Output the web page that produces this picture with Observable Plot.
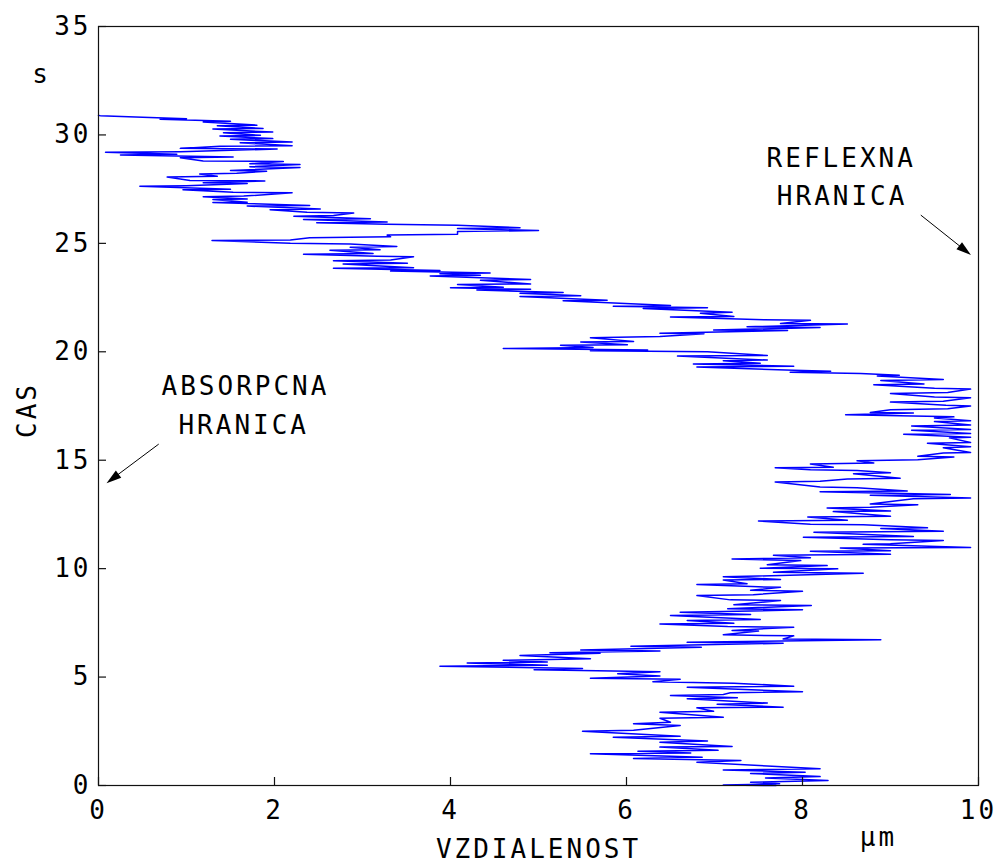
<!DOCTYPE html>
<html>
<head>
<meta charset="utf-8">
<script src="https://cdn.jsdelivr.net/npm/d3@7"></script>
<script src="https://cdn.jsdelivr.net/npm/@observablehq/plot@0.6"></script>
<style>
  html, body { margin: 0; padding: 0; background: #fff; }
</style>
</head>
<body>
<div id="chart"></div>
<script>
// Random-walk trajectory: [distance (µm), time (s)]
const walk1 = [
  [7.7,0.0],[7.1,0.02],[7.74,0.08],[7.41,0.15],[8.29,0.23],[7.58,0.35],[8.2,0.41],[7.41,0.55],
  [8.03,0.61],[7.1,0.72],[8.2,0.77],[7.6,0.9],[6.8,1.07],[7.3,1.15],[6.08,1.25],[6.86,1.3],
  [5.59,1.46],[6.73,1.5],[6.13,1.58],[7.04,1.62],[6.38,1.77],[7.2,1.8],[6.38,2.0],[6.92,2.05],
  [5.85,2.23],[6.61,2.27],[5.5,2.5],[6.08,2.55],[6.61,2.77],[6.08,2.85],[6.5,2.92],[6.38,3.1],
  [7.1,3.15],[6.38,3.38],[6.99,3.42],[6.8,3.58],[7.78,3.61],[7.03,3.75],[7.6,3.8],[6.69,4.0],
  [7.26,4.05],[6.5,4.15],[7.1,4.2],[7.18,4.28],[8.0,4.32],[6.69,4.53],[7.9,4.58],[7.22,4.72],
  [6.3,4.78],[6.61,4.9],[5.59,4.95],[6.38,5.05],[5.9,5.15],[6.38,5.25],[4.95,5.34],[5.5,5.4],
  [3.88,5.5],[5.1,5.55],[4.19,5.65],[5.1,5.7],[4.6,5.77],[5.59,5.85],[4.79,6.0],[5.7,6.1],
  [5.13,6.12],[6.38,6.2],[5.48,6.25],[6.85,6.38],[6.05,6.42],[7.78,6.56],[6.69,6.6],[8.89,6.72],
  [7.78,6.76],[7.9,6.9],[7.1,6.95],[7.5,7.12],[7.2,7.15],[7.9,7.3],[7.15,7.33],[6.38,7.45],
  [7.22,7.48],[6.69,7.61],[7.52,7.65],[6.5,7.84],[7.41,7.88],[6.61,7.99],[7.26,8.03],[8.0,8.1],
  [7.15,8.15],[8.1,8.3],[7.22,8.33],[7.75,8.53],[7.18,8.56],[6.8,8.76],[7.44,8.8],[8.0,8.96],
  [7.41,9.0],[7.75,9.14],[7.5,9.16],[6.8,9.27],[7.37,9.3],[7.1,9.48],[7.75,9.5],[7.1,9.63],
  [7.5,9.66],[8.69,9.79],[7.67,9.83],[8.4,9.99],[7.52,10.02],[8.28,10.14],[7.6,10.18],[7.98,10.37],
  [7.2,10.45]
];
const walk2 = [
  [8.09,10.5],[7.67,10.62],[9.0,10.66],[8.09,10.8],[9.0,10.83],[8.43,10.95],[9.91,10.97],[8.69,11.12],
  [9.0,11.15],[9.6,11.3],[9.0,11.33],[8.01,11.45],[9.26,11.48],[8.13,11.68],[9.6,11.72],[8.89,11.85],
  [9.42,11.88],[8.69,12.02],[8.09,12.05],[7.5,12.2],[8.51,12.23],[8.06,12.38],[9.0,12.42],[8.35,12.63],
  [9.0,12.66],[8.28,12.8],[8.77,12.83],[9.31,12.95],[8.77,12.98],[9.26,13.22],[9.91,13.26],[8.77,13.38],
  [9.68,13.42],[8.2,13.55],[9.19,13.58],[8.62,13.73],[8.2,13.76],[7.69,14.0],[8.2,14.03],[8.51,14.13],
  [9.11,14.17],[8.58,14.38],[9.0,14.42],[8.62,14.53],[8.09,14.56],[7.69,14.65],[8.35,14.68],[8.09,14.83],
  [8.81,14.87],[8.62,14.98],[9.31,15.02],[9.72,15.15],[9.31,15.18],[9.6,15.33],[9.91,15.36],[9.6,15.58],
  [9.91,15.62],[9.42,15.78],[9.91,15.82],[9.67,16.03],[9.91,16.06],[9.15,16.2],[9.91,16.23],[9.24,16.38],
  [9.91,16.42],[9.24,16.58],[9.91,16.62],[9.5,16.78],[9.91,16.82],[9.5,16.95],[9.72,17.0],[8.49,17.1],
  [9.26,17.18],[8.77,17.2],[9.0,17.33],[9.65,17.37],[9.91,17.5],[9.63,17.53],[9.0,17.68],[9.6,17.72],
  [9.91,17.88],[9.5,17.92],[9.0,18.08],[9.65,18.12],[9.91,18.28],[9.5,18.32],[8.81,18.48],[9.38,18.52],
  [8.89,18.68],[9.6,18.72],[8.85,18.88],[9.1,18.92],[8.66,19.0]
];
const walk3 = [
  [7.86,19.06],[8.32,19.1],[7.9,19.15],[6.8,19.3],[7.9,19.33],[6.76,19.44],[7.52,19.47],[7.1,19.59],
  [7.6,19.62],[6.58,19.8],[7.6,19.83],[6.92,20.0],[5.59,20.05],[6.24,20.08],[4.6,20.15],[5.62,20.2],
  [5.25,20.3],[6.01,20.33],[5.48,20.45],[6.08,20.48],[5.59,20.65],[6.38,20.7],[6.88,20.83],[6.38,20.86],
  [7.83,20.98],[6.99,21.0],[8.2,21.12],[7.37,21.15],[8.51,21.28],[7.75,21.3],[8.09,21.45],[7.56,21.48],
  [6.5,21.6],[7.22,21.63],[6.84,21.78],[7.2,21.82],[6.19,22.0],[6.92,22.03],[5.85,22.1],[6.5,22.13],
  [5.28,22.35],[5.78,22.38],[4.79,22.55],[5.48,22.58],[4.79,22.7],[5.28,22.73],[4.3,22.85],[4.91,22.88],
  [4.0,22.95],[4.6,22.98],[4.08,23.1],[4.91,23.13],[4.34,23.3],[4.91,23.33],[3.77,23.5],[4.34,23.53]
];
const walk4 = [
  [3.88,23.6],[4.45,23.63],[3.32,23.72],[3.88,23.75],[2.67,23.85],[3.58,23.88],[2.78,24.05],[3.51,24.08],
  [2.67,24.2],[3.32,24.23],[3.58,24.38],[3.17,24.4],[2.33,24.5],[3.12,24.53],[2.63,24.68],[3.2,24.7],
  [2.86,24.82],[3.39,24.85],[2.86,24.97],[2.18,25.0],[1.29,25.13],[2.18,25.15],[2.4,25.26],[3.32,25.3],
  [3.28,25.38],[4.08,25.42],[4.08,25.55],[5.0,25.59],[4.08,25.68],[4.79,25.72],[4.08,25.83],[3.28,25.88],
  [2.48,25.95],[3.28,25.98],[2.33,26.1],[3.09,26.13],[2.22,26.25],[2.67,26.28],[2.9,26.4],[2.37,26.43],
  [1.95,26.55],[2.52,26.58],[1.69,26.72],[2.4,26.75],[1.3,26.88],[1.69,26.9],[1.3,27.02],[1.69,27.05],
  [1.19,27.15],[1.65,27.18],[2.2,27.33],[1.53,27.36],[0.96,27.47],[1.5,27.5],[0.47,27.63],[1.0,27.66],
  [1.69,27.76],[1.19,27.79],[1.89,27.88],[1.04,27.9],[0.78,28.06],[1.35,28.09],[1.15,28.2],[1.57,28.23],
  [1.91,28.33],[1.5,28.36],[2.29,28.5],[1.72,28.53],[2.29,28.64],[1.72,28.67],[2.1,28.78],[1.19,28.8],
  [0.93,28.95],[1.53,28.98],[0.25,29.08],[0.89,29.11],[0.08,29.2],[0.93,29.23],[2.03,29.35],[0.93,29.38],
  [1.38,29.48],[2.2,29.5],[1.61,29.64],[2.2,29.67],[1.5,29.8],[1.98,29.83],[1.38,29.95],[1.84,29.98],
  [1.42,30.1],[1.98,30.13],[1.3,30.27],[1.87,30.3],[1.35,30.42],[1.8,30.45],[1.19,30.6],[1.5,30.63],
  [0.7,30.72],[1.0,30.75],[0.5,30.82],[0.02,30.89],[0.0,30.9]
];

const xTicks = [0, 2, 4, 6, 8, 10];
const yTicks = [0, 5, 10, 15, 20, 25, 30, 35];

const noteTexts = ["ABSORPCNA", "HRANICA", "REFLEXNA", "HRANICA"];
const noteX = [1.67, 1.65, 8.44, 8.45];
const noteY = [18.4, 16.6, 28.9, 27.15];

const arrowFromX = [0.69, 9.35];
const arrowFromY = [15.72, 26.28];
const arrowToX = [0.097, 9.92];
const arrowToY = [13.92, 24.44];

const path = [...walk1, ...walk2, ...walk3, ...walk4].map(([x, t]) => ({x, t}));
const notes = noteTexts.map((text, i) => ({text, x: noteX[i], y: noteY[i]}));
const arrows = arrowFromX.map((_, i) => ({x1: arrowFromX[i], y1: arrowFromY[i], x2: arrowToX[i], y2: arrowToY[i]}));

const W = 998, H = 865;
const mL = 98, mR = 20, mT = 26, mB = 80;
const frameW = W - mL - mR, frameH = H - mT - mB;
const tickLen = 8;

// custom arrows with filled heads, positioned through the plot's scales
function arrowMark(index, scales) {
  const g = d3.create("svg:g");
  for (const a of arrows) {
    const X1 = scales.x(a.x1), Y1 = scales.y(a.y1), X2 = scales.x(a.x2), Y2 = scales.y(a.y2);
    const dx = X2 - X1, dy = Y2 - Y1, len = Math.hypot(dx, dy);
    const ux = dx / len, uy = dy / len, nx = -uy, ny = ux;
    const L = 15, w = 4.5;
    const bx = X2 - L * ux, by = Y2 - L * uy;
    g.append("line").attr("x1", X1).attr("y1", Y1).attr("x2", bx + 2 * ux).attr("y2", by + 2 * uy)
      .attr("stroke", "#000").attr("stroke-width", 1);
    g.append("path")
      .attr("d", `M${X2},${Y2}L${bx + w * nx},${by + w * ny}L${bx - w * nx},${by - w * ny}Z`)
      .attr("fill", "#000");
  }
  return g.node();
}

const chart = Plot.plot({
  width: W,
  height: H,
  marginLeft: mL,
  marginRight: mR,
  marginTop: mT,
  marginBottom: mB,
  style: {
    fontFamily: "'DejaVu Sans Mono', monospace",
    fontSize: "26px",
    letterSpacing: "3px",
    background: "#fff",
    color: "#000"
  },
  x: {domain: [0, 10], ticks: xTicks, tickSize: 0, tickPadding: 15, label: null},
  y: {domain: [0, 35], ticks: yTicks, tickSize: 0, tickPadding: 7, label: null},
  marks: [
    Plot.line(path, {x: "x", y: "t", stroke: "#0000ff", strokeWidth: 1.5, curve: "linear"}),
    Plot.frame({stroke: "#111", strokeWidth: 1.2}),
    Plot.tickX(xTicks, {x: d => d, stroke: "#111", strokeWidth: 1.2, insetTop: frameH - tickLen}),
    Plot.tickY(yTicks, {y: d => d, stroke: "#111", strokeWidth: 1.2, insetRight: frameW - tickLen}),
    Plot.text(notes, {x: "x", y: "y", text: "text", textAnchor: "middle", lineAnchor: "middle", fill: "#000"}),
    arrowMark,
    Plot.text(["s"], {frameAnchor: "top-left", dx: -57, dy: 48, textAnchor: "middle", lineAnchor: "middle", fill: "#000"}),
    Plot.text(["CAS"], {frameAnchor: "left", dx: -71, dy: 4, rotate: -90, textAnchor: "middle", lineAnchor: "middle", fill: "#000"}),
    Plot.text(["VZDIALENOST"], {frameAnchor: "bottom", dy: 64, textAnchor: "middle", lineAnchor: "middle", fill: "#000"}),
    Plot.text(["µm"], {frameAnchor: "bottom-right", dx: -100, dy: 52, textAnchor: "middle", lineAnchor: "middle", fill: "#000"})
  ]
});

document.getElementById("chart").appendChild(chart);
</script>
</body>
</html>
